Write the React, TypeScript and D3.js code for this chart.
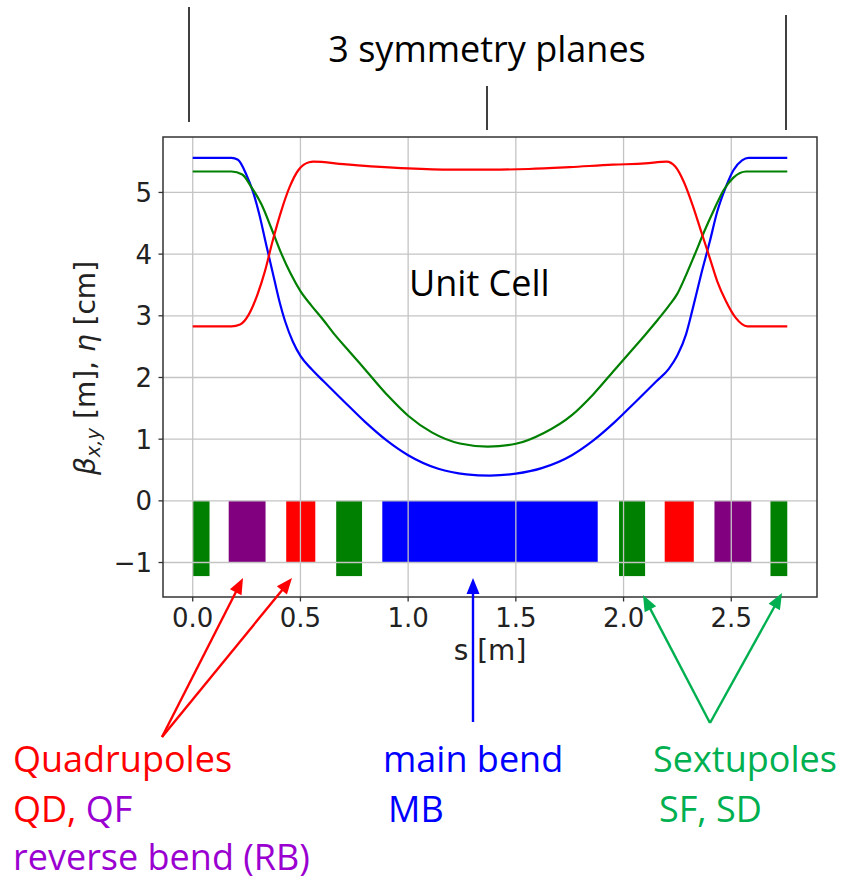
import React from "react";
import * as d3 from "d3";

// optics along one unit cell: [s in m, value]
const betaX: [number, number][] = [
  [0, 5.56], [0.18, 5.56], [0.21, 5.53], [0.25, 5.28], [0.28, 5.01], [0.31, 4.63],
  [0.34, 4.17], [0.37, 3.72], [0.4, 3.27], [0.43, 2.9], [0.465, 2.58], [0.5, 2.35],
  [0.55, 2.14], [0.61, 1.93], [0.7, 1.62], [0.8, 1.28], [0.9, 0.98], [1.0, 0.74],
  [1.14, 0.52], [1.27, 0.43], [1.38, 0.41], [1.5, 0.44], [1.62, 0.53], [1.76, 0.74],
  [1.86, 0.98], [1.96, 1.28], [2.06, 1.62], [2.15, 1.93], [2.21, 2.14], [2.25, 2.36],
  [2.29, 2.7], [2.32, 3.1], [2.36, 3.67], [2.4, 4.2], [2.435, 4.69], [2.475, 5.09],
  [2.51, 5.36], [2.55, 5.52], [2.58, 5.56], [2.76, 5.56],
];

const betaY: [number, number][] = [
  [0, 5.34], [0.18, 5.34], [0.23, 5.29], [0.27, 5.1], [0.32, 4.8], [0.365, 4.42],
  [0.41, 4.02], [0.455, 3.68], [0.5, 3.4], [0.55, 3.17], [0.6, 2.96], [0.66, 2.69],
  [0.73, 2.41], [0.8, 2.13], [0.91, 1.69], [1.0, 1.38], [1.11, 1.11], [1.24, 0.93],
  [1.37, 0.88], [1.5, 0.925], [1.63, 1.1], [1.76, 1.39], [1.86, 1.73], [1.96, 2.13],
  [2.03, 2.41], [2.1, 2.69], [2.16, 2.94], [2.21, 3.16], [2.25, 3.36], [2.29, 3.66],
  [2.33, 3.99], [2.375, 4.37], [2.42, 4.72], [2.465, 5.04], [2.51, 5.24], [2.57, 5.34],
  [2.76, 5.34],
];

const eta: [number, number][] = [
  [0, 2.83], [0.18, 2.83], [0.22, 2.86], [0.26, 3.02], [0.3, 3.34], [0.335, 3.72],
  [0.37, 4.2], [0.41, 4.69], [0.45, 5.09], [0.49, 5.36], [0.54, 5.49], [0.56, 5.5],
  [0.7, 5.46], [0.85, 5.42], [1.0, 5.39], [1.2, 5.37], [1.38, 5.37], [1.56, 5.38],
  [1.75, 5.41], [1.95, 5.45], [2.1, 5.47], [2.2, 5.5], [2.24, 5.42], [2.28, 5.17],
  [2.32, 4.8], [2.36, 4.37], [2.4, 3.94], [2.435, 3.56], [2.475, 3.24], [2.52, 2.97],
  [2.575, 2.83], [2.76, 2.83],
];

// lattice layout: SF, RB, QD, SD, MB, SD, QD, RB, SF
const elemStart = [0, 0.167, 0.434, 0.666, 0.88, 1.979, 2.191, 2.422, 2.682];
const elemEnd = [0.078, 0.338, 0.569, 0.786, 1.88, 2.1, 2.326, 2.593, 2.76];
const elemLow = [-1.22, -1, -1, -1.22, -1, -1.22, -1, -1, -1.22];
const elemColor = ["green", "purple", "red", "green", "blue", "green", "red", "purple", "green"];

const xTicks = [0, 0.5, 1, 1.5, 2, 2.5];
const yTicks = [-1, 0, 1, 2, 3, 4, 5];

// slide overlay (pixel positions)
const symLines = [
  { x: 189, y1: 7, y2: 122 },
  { x: 487, y1: 86, y2: 130 },
  { x: 786, y1: 15, y2: 130 },
];
const arrows = [
  { from: [162, 737], to: [243, 578], color: "#ff0000" },
  { from: [162, 737], to: [292, 578], color: "#ff0000" },
  { from: [473, 722], to: [473, 578], color: "#0000ff" },
  { from: [710, 723], to: [643, 595], color: "#00b050" },
  { from: [710, 723], to: [782, 593], color: "#00b050" },
];

const W = 848;
const H = 882;
const box = { left: 163, right: 817, top: 137, bottom: 597 };
const MPL = "DejaVu Sans";
const NOTE = "'Open Sans', sans-serif";
const RED = "#ff0000";
const PURPLE = "#9a00d0";
const BLUE = "#0000ff";
const GREEN = "#00b050";

function arrowHead(from: number[], to: number[]) {
  const dx = to[0] - from[0];
  const dy = to[1] - from[1];
  const len = Math.hypot(dx, dy);
  const ux = dx / len;
  const uy = dy / len;
  const L = 16;
  const hw = 6.5;
  const bx = to[0] - ux * L;
  const by = to[1] - uy * L;
  return `${to[0]},${to[1]} ${bx - uy * hw},${by + ux * hw} ${bx + uy * hw},${by - ux * hw}`;
}

export default function App() {
  // matplotlib-style 5% margins around the data
  const sMax = d3.max(betaX, (d) => d[0]) as number;
  const xPad = sMax * 0.05;
  const allY = [...betaX, ...betaY, ...eta].map((d) => d[1]).concat(elemLow);
  const [yMin, yMax] = d3.extent(allY) as [number, number];
  const yPad = (yMax - yMin) * 0.05;

  const x = d3.scaleLinear().domain([-xPad, sMax + xPad]).range([box.left, box.right]);
  const y = d3.scaleLinear().domain([yMin - yPad, yMax + yPad]).range([box.bottom, box.top]);

  const line = d3
    .line<[number, number]>()
    .x((d) => x(d[0]))
    .y((d) => y(d[1]))
    .curve(d3.curveMonotoneX);

  const curves = [
    { data: betaX, color: "#0000ff" },
    { data: betaY, color: "#008000" },
    { data: eta, color: "#ff0000" },
  ];

  return (
    <svg
      width={W}
      height={H}
      style={{ position: "absolute", left: 0, top: 0, background: "#fff" }}
    >
      {/* magnets */}
      {elemStart.map((s0, i) => (
        <rect
          key={i}
          x={x(s0)}
          y={y(0)}
          width={x(elemEnd[i]) - x(s0)}
          height={y(elemLow[i]) - y(0)}
          fill={elemColor[i]}
        />
      ))}

      {/* grid */}
      {xTicks.map((t) => (
        <line key={"gx" + t} x1={x(t)} x2={x(t)} y1={box.top} y2={box.bottom} stroke="#c4c4c4" strokeWidth={1.3} />
      ))}
      {yTicks.map((t) => (
        <line key={"gy" + t} x1={box.left} x2={box.right} y1={y(t)} y2={y(t)} stroke="#c4c4c4" strokeWidth={1.3} />
      ))}

      {curves.map((c, i) => (
        <path key={i} d={line(c.data) || ""} fill="none" stroke={c.color} strokeWidth={2.2} />
      ))}

      {/* axes frame */}
      <rect
        x={box.left}
        y={box.top}
        width={box.right - box.left}
        height={box.bottom - box.top}
        fill="none"
        stroke="#333"
        strokeWidth={1.5}
      />
      {xTicks.map((t) => (
        <g key={"tx" + t}>
          <line x1={x(t)} x2={x(t)} y1={box.bottom} y2={box.bottom + 4.5} stroke="#333" strokeWidth={1.3} />
          <text x={x(t)} y={box.bottom + 30} textAnchor="middle" fontFamily={MPL} fontSize={26} fill="#222">
            {d3.format(".1f")(t)}
          </text>
        </g>
      ))}
      {yTicks.map((t) => (
        <g key={"ty" + t}>
          <line x1={box.left - 4.5} x2={box.left} y1={y(t)} y2={y(t)} stroke="#333" strokeWidth={1.3} />
          <text x={box.left - 11} y={y(t) + 9.5} textAnchor="end" fontFamily={MPL} fontSize={26} fill="#222">
            {t < 0 ? "\u2212" + Math.abs(t) : String(t)}
          </text>
        </g>
      ))}
      <text x={(box.left + box.right) / 2} y={660} textAnchor="middle" fontFamily={MPL} fontSize={28} fill="#222">
        s [m]
      </text>
      <text
        transform="translate(95,368) rotate(-90)"
        textAnchor="middle"
        fontFamily={MPL}
        fontSize={28}
        fill="#222"
      >
        <tspan fontStyle="italic">β</tspan>
        <tspan fontStyle="italic" fontSize={19.5} dy={5}>x,y</tspan>
        <tspan dy={-5}>{" [m], "}</tspan>
        <tspan fontStyle="italic">η</tspan>
        <tspan>{" [cm]"}</tspan>
      </text>

      {/* slide annotations */}
      {symLines.map((l, i) => (
        <line key={"sym" + i} x1={l.x} x2={l.x} y1={l.y1} y2={l.y2} stroke="#000" strokeWidth={1.5} />
      ))}
      <text x={487} y={62} textAnchor="middle" fontFamily={NOTE} fontSize={36} fill="#000">
        3 symmetry planes
      </text>
      <text x={409} y={296} fontFamily={NOTE} fontSize={36} fill="#000">
        Unit Cell
      </text>

      {arrows.map((a, i) => (
        <g key={"ar" + i}>
          <line
            x1={a.from[0]}
            y1={a.from[1]}
            x2={a.to[0] - (a.to[0] - a.from[0]) * 0.05}
            y2={a.to[1] - (a.to[1] - a.from[1]) * 0.05}
            stroke={a.color}
            strokeWidth={2.4}
          />
          <polygon points={arrowHead(a.from, a.to)} fill={a.color} />
        </g>
      ))}

      <g fontFamily={NOTE} fontSize={36}>
        <text x={13} y={772} fill={RED}>Quadrupoles</text>
        <text x={13} y={822}>
          <tspan fill={RED}>QD,</tspan>
          <tspan fill={PURPLE}>{" QF"}</tspan>
        </text>
        <text x={13} y={870} fill={PURPLE}>reverse bend (RB)</text>
        <text x={383} y={772} fill={BLUE}>main bend</text>
        <text x={388} y={822} fill={BLUE}>MB</text>
        <text x={653} y={772} fill={GREEN}>Sextupoles</text>
        <text x={659} y={822} fill={GREEN}>SF, SD</text>
      </g>
    </svg>
  );
}
